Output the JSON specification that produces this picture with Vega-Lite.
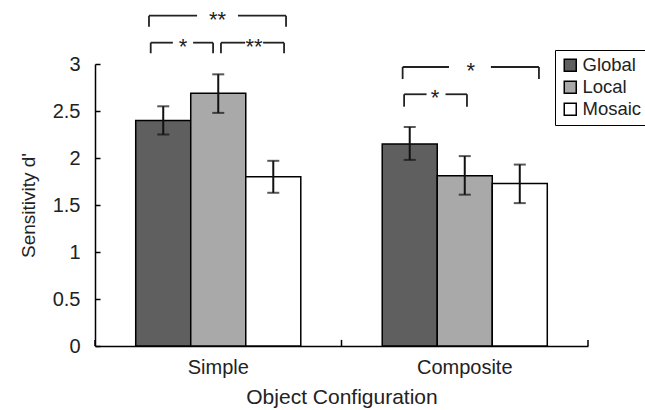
{
  "$schema": "https://vega.github.io/schema/vega-lite/v6.json",
  "width": 493,
  "height": 282,
  "autosize": {"type": "none"},
  "padding": {"left": 95, "top": 64, "right": 57, "bottom": 64},
  "background": "white",
  "config": {
    "font": "Liberation Sans",
    "view": {"stroke": null},
    "axis": {"domainColor": "black", "domainWidth": 1.5, "tickColor": "black", "tickWidth": 1.5, "labelFont": "Liberation Sans", "titleFont": "Liberation Sans", "labelColor": "#222", "titleColor": "#222", "titleFontWeight": "normal", "grid": false}
  },
  "datasets": {
    "bars": [
      {"cat": "Simple", "series": "Global", "d": 2.40, "lo": 2.25, "hi": 2.55},
      {"cat": "Simple", "series": "Local", "d": 2.69, "lo": 2.48, "hi": 2.89},
      {"cat": "Simple", "series": "Mosaic", "d": 1.80, "lo": 1.63, "hi": 1.97},
      {"cat": "Composite", "series": "Global", "d": 2.15, "lo": 1.98, "hi": 2.33},
      {"cat": "Composite", "series": "Local", "d": 1.81, "lo": 1.61, "hi": 2.02},
      {"cat": "Composite", "series": "Mosaic", "d": 1.73, "lo": 1.52, "hi": 1.93}
    ],
    "cats": [{"cat": "Simple"}, {"cat": "Composite"}],
    "lastcat": [{"cat": "Composite"}],
    "segs": [
      {"x": 0.219, "x2": 0.219, "y": 3.397, "y2": 3.514},
      {"x": 0.219, "x2": 0.414, "y": 3.514, "y2": 3.514},
      {"x": 0.580, "x2": 0.775, "y": 3.514, "y2": 3.514},
      {"x": 0.775, "x2": 0.775, "y": 3.397, "y2": 3.514},
      {"x": 0.226, "x2": 0.226, "y": 3.114, "y2": 3.227},
      {"x": 0.226, "x2": 0.316, "y": 3.227, "y2": 3.227},
      {"x": 0.398, "x2": 0.479, "y": 3.227, "y2": 3.227},
      {"x": 0.479, "x2": 0.479, "y": 3.114, "y2": 3.227},
      {"x": 0.511, "x2": 0.511, "y": 3.114, "y2": 3.227},
      {"x": 0.511, "x2": 0.609, "y": 3.227, "y2": 3.227},
      {"x": 0.682, "x2": 0.767, "y": 3.227, "y2": 3.227},
      {"x": 0.767, "x2": 0.767, "y": 3.114, "y2": 3.227},
      {"x": 1.248, "x2": 1.248, "y": 2.840, "y2": 2.968},
      {"x": 1.248, "x2": 1.436, "y": 2.968, "y2": 2.968},
      {"x": 1.606, "x2": 1.801, "y": 2.968, "y2": 2.968},
      {"x": 1.801, "x2": 1.801, "y": 2.840, "y2": 2.968},
      {"x": 1.254, "x2": 1.254, "y": 2.546, "y2": 2.678},
      {"x": 1.254, "x2": 1.345, "y": 2.678, "y2": 2.678},
      {"x": 1.422, "x2": 1.509, "y": 2.678, "y2": 2.678},
      {"x": 1.509, "x2": 1.509, "y": 2.546, "y2": 2.678}
    ],
    "stars": [
      {"x": 0.497, "y": 3.514, "t": "**"},
      {"x": 0.357, "y": 3.227, "t": "*"},
      {"x": 0.645, "y": 3.227, "t": "**"},
      {"x": 1.524, "y": 2.968, "t": "*"},
      {"x": 1.379, "y": 2.678, "t": "*"}
    ]
  },
  "layer": [
    {
      "layer": [
        {
          "data": {"name": "bars"},
          "mark": {"type": "bar", "stroke": "black", "strokeWidth": 1.5},
          "encoding": {
            "x": {"field": "cat", "type": "nominal", "sort": ["Simple", "Composite"],
              "scale": {"paddingInner": 0, "paddingOuter": 0},
              "axis": {"title": "Object Configuration", "ticks": false, "labelAngle": 0, "labelFontSize": 20, "titleFontSize": 21, "labelPadding": 11, "titlePadding": 9}},
            "xOffset": {"field": "series", "type": "nominal", "sort": ["Global", "Local", "Mosaic"],
              "scale": {"paddingInner": 0, "paddingOuter": 0.74}},
            "y": {"field": "d", "type": "quantitative",
              "scale": {"domain": [0, 3], "nice": false},
              "axis": {"title": "Sensitivity d'", "values": [0, 0.5, 1, 1.5, 2, 2.5, 3], "format": "~g", "tickSize": -5, "labelPadding": 20, "labelFontSize": 20, "titleFontSize": 19, "titlePadding": 14}},
            "color": {"field": "series", "type": "nominal",
              "scale": {"domain": ["Global", "Local", "Mosaic"], "range": ["#5f5f5f", "#a9a9a9", "#ffffff"]},
              "legend": {"title": null, "orient": "none", "legendX": 460, "legendY": -14, "symbolType": "square", "symbolSize": 144, "symbolStrokeColor": "black", "symbolStrokeWidth": 1.5, "labelFontSize": 18.5, "labelColor": "#222", "strokeColor": "black", "padding": 6, "rowPadding": 3, "labelOffset": 3}}
          }
        },
        {
          "data": {"name": "bars"},
          "mark": {"type": "rule", "color": "#111", "strokeWidth": 2},
          "encoding": {
            "x": {"field": "cat", "type": "nominal", "sort": ["Simple", "Composite"]},
            "xOffset": {"field": "series", "type": "nominal", "sort": ["Global", "Local", "Mosaic"]},
            "y": {"field": "lo", "type": "quantitative"},
            "y2": {"field": "hi"}
          }
        },
        {
          "data": {"name": "bars"},
          "mark": {"type": "tick", "color": "#111", "size": 12, "thickness": 2, "orient": "horizontal"},
          "encoding": {
            "x": {"field": "cat", "type": "nominal", "sort": ["Simple", "Composite"]},
            "xOffset": {"field": "series", "type": "nominal", "sort": ["Global", "Local", "Mosaic"]},
            "y": {"field": "hi", "type": "quantitative"}
          }
        },
        {
          "data": {"name": "bars"},
          "mark": {"type": "tick", "color": "#111", "size": 12, "thickness": 2, "orient": "horizontal"},
          "encoding": {
            "x": {"field": "cat", "type": "nominal", "sort": ["Simple", "Composite"]},
            "xOffset": {"field": "series", "type": "nominal", "sort": ["Global", "Local", "Mosaic"]},
            "y": {"field": "lo", "type": "quantitative"}
          }
        },
        {
          "data": {"name": "cats"},
          "mark": {"type": "rule", "color": "black", "strokeWidth": 1.5},
          "encoding": {
            "x": {"field": "cat", "type": "nominal", "sort": ["Simple", "Composite"], "bandPosition": 0},
            "y": {"datum": 0, "type": "quantitative"},
            "y2": {"datum": 0.065}
          }
        },
        {
          "data": {"name": "lastcat"},
          "mark": {"type": "rule", "color": "black", "strokeWidth": 1.5},
          "encoding": {
            "x": {"field": "cat", "type": "nominal", "sort": ["Simple", "Composite"], "bandPosition": 1},
            "y": {"datum": 0, "type": "quantitative"},
            "y2": {"datum": 0.065}
          }
        }
      ]
    },
    {
      "layer": [
        {
          "data": {"name": "segs"},
          "mark": {"type": "rule", "color": "#222", "strokeWidth": 1.8},
          "encoding": {
            "x": {"field": "x", "type": "quantitative", "scale": {"domain": [0, 2], "nice": false, "zero": false}, "axis": null},
            "x2": {"field": "x2"},
            "y": {"field": "y", "type": "quantitative"},
            "y2": {"field": "y2"}
          }
        },
        {
          "data": {"name": "stars"},
          "mark": {"type": "text", "font": "Liberation Sans", "fontSize": 22, "color": "#222", "baseline": "alphabetic", "dy": 11},
          "encoding": {
            "x": {"field": "x", "type": "quantitative", "scale": {"domain": [0, 2], "nice": false, "zero": false}, "axis": null},
            "y": {"field": "y", "type": "quantitative"},
            "text": {"field": "t"}
          }
        }
      ]
    }
  ],
  "resolve": {"scale": {"x": "independent"}}
}
